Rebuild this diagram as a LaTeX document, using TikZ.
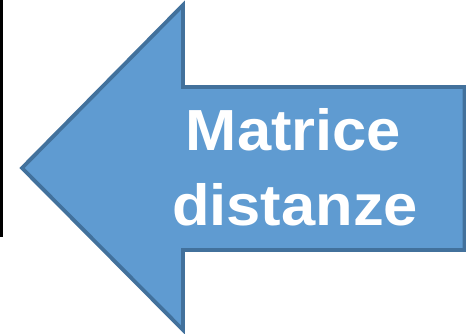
\documentclass[tikz,border=0pt]{standalone}
\usepackage{fontspec}
\setmainfont{Liberation Sans}
\definecolor{arrowfill}{HTML}{5F9BD1}
\definecolor{arrowline}{HTML}{42719C}
\tikzset{
  bigarrow/.style={fill=arrowfill, draw=arrowline, line width=3.8pt, line join=miter},
  label/.style={text=white, font=\bfseries\fontsize{58}{58}\selectfont, inner sep=0pt, xscale=1.06},
}
\begin{document}
\begin{tikzpicture}[x=1pt, y=-1pt]
  \useasboundingbox (0,0) rectangle (466,333);
  % thin black rule on the left edge
  \fill[black] (0,0) rectangle (2.8,237);
  % left-pointing block arrow
  \draw[bigarrow]
    (22,168) coordinate (tip)
    -- (183,5) coordinate (headtop)
    -- (183,87)
    -- (464.5,87)
    -- (464.5,250)
    -- (183,250)
    -- (183,330) coordinate (headbottom)
    -- cycle;
  \node[label, anchor=base] (l1) at (293.5,150) {Matrice};
  \node[label, anchor=base] (l2) at (295,225) {distanze};
\end{tikzpicture}
\end{document}
